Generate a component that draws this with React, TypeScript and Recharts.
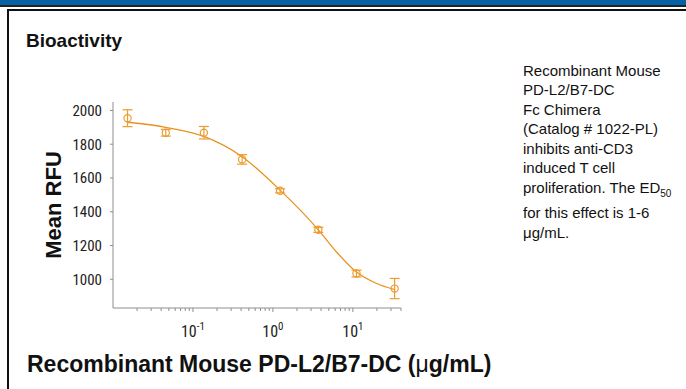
import React from "react";
import { ComposedChart, Line, Scatter, ErrorBar, XAxis, YAxis } from "recharts";

// Measured points (concentration in µg/mL, mean RFU, error)
const concentrations = [0.0152, 0.0457, 0.137, 0.412, 1.23, 3.7, 11.1, 33.3];
const meanRfu = [1954, 1868, 1868, 1710, 1524, 1293, 1034, 945];
const rfuError = [50, 20, 37, 28, 12, 15, 20, 60];

// Fitted curve
const fitX = [0.0152, 0.0457, 0.137, 0.412, 1.23, 3.7, 6.4, 11.1, 19.2, 33.3];
const fitY = [1930, 1900, 1846, 1726, 1528, 1293, 1156, 1043, 978, 939];

const yTicks = [1000, 1200, 1400, 1600, 1800, 2000];
const xMajorTicks = [0.1, 1, 10];
const xMajorExponents = ["-1", "0", "1"];
const xMinorTicks = [
  0.02, 0.03, 0.04, 0.05, 0.06, 0.07, 0.08, 0.09,
  0.2, 0.3, 0.4, 0.5, 0.6, 0.7, 0.8, 0.9,
  2, 3, 4, 5, 6, 7, 8, 9,
  20, 30, 40,
];

const descriptionLines = [
  "Recombinant Mouse",
  "PD-L2/B7-DC",
  "Fc Chimera",
  "(Catalog # 1022-PL)",
  "inhibits anti-CD3",
  "induced T cell",
];

const points = concentrations.map((x, i) => ({ x, y: meanRfu[i], err: rfuError[i] }));
const fit = fitX.map((x, i) => ({ x, fit: fitY[i] }));
const allXTicks = [...xMinorTicks, ...xMajorTicks].sort((a, b) => a - b);

const ORANGE = "#EC9B2E";
const LINE_ORANGE = "#E8931F";
const AXIS = "#8e8e8e";
const SANS = "'Liberation Sans', Arial, sans-serif";
const NARROW = "'Liberation Sans Narrow', 'Arial Narrow', 'Roboto Condensed', sans-serif";

const XTick = (props: any) => {
  const { x, y, payload } = props;
  const v = payload.value;
  const idx = xMajorTicks.findIndex((m) => Math.abs(m - v) < 1e-9);
  const major = idx >= 0;
  return (
    <g>
      <line x1={x} x2={x} y1={y} y2={y + (major ? 4 : 3)} stroke={AXIS} strokeWidth={1} />
      {major && (
        <text x={x} y={y + 29} textAnchor="middle" fontFamily={NARROW} fontSize={16} fill="#222">
          <tspan>10</tspan>
          <tspan dy={-7} fontSize={11}>{xMajorExponents[idx]}</tspan>
        </text>
      )}
    </g>
  );
};

const Marker = (props: any) => {
  const { cx, cy } = props;
  if (cx == null || cy == null) return <g />;
  return <circle cx={cx} cy={cy} r={3.6} fill="none" stroke={ORANGE} strokeWidth={1.2} />;
};

export default function App() {
  return (
    <div style={{ position: "absolute", left: 0, top: 0, width: 686, height: 389, background: "#fff", overflow: "hidden" }}>
      <div style={{ position: "absolute", left: 0, top: 0 }}>
        <ComposedChart
          width={686}
          height={389}
          margin={{ top: 102, left: 112, right: 285, bottom: 80 }}
        >
          <XAxis
            dataKey="x"
            type="number"
            scale="log"
            domain={[0.01, 40]}
            allowDataOverflow
            ticks={allXTicks}
            interval={0}
            tickLine={false}
            tickSize={0}
            tickMargin={0}
            tick={<XTick />}
            axisLine={{ stroke: AXIS, strokeWidth: 1 }}
            height={1}
          />
          <YAxis
            type="number"
            domain={[830, 2050]}
            allowDataOverflow
            ticks={yTicks}
            interval={0}
            width={1}
            tickSize={3}
            tickMargin={8}
            axisLine={{ stroke: AXIS, strokeWidth: 1 }}
            tickLine={{ stroke: AXIS, strokeWidth: 1 }}
            tick={{ fontFamily: NARROW, fontSize: 15, fill: "#222" }}
          />
          <Line
            data={fit}
            dataKey="fit"
            type="monotone"
            stroke={LINE_ORANGE}
            strokeWidth={1.3}
            dot={false}
            activeDot={false}
            isAnimationActive={false}
          />
          <Scatter data={points} dataKey="y" shape={<Marker />} isAnimationActive={false}>
            <ErrorBar dataKey="err" direction="y" width={5} stroke={ORANGE} strokeWidth={1.2} isAnimationActive={false} />
          </Scatter>
        </ComposedChart>
      </div>
      <svg
        width={686}
        height={389}
        style={{ position: "absolute", left: 0, top: 0, pointerEvents: "none" }}
      >
        <rect x={0} y={0} width={686} height={5} fill="#0561A3" />
        <rect x={0} y={5} width={686} height={2} fill="#222" />
        <rect x={7} y={9} width={679} height={2} fill="#111" />
        <rect x={7} y={9} width={2} height={380} fill="#111" />
        <text x={26} y={47} fontFamily={SANS} fontWeight="bold" fontSize={19} fill="#111">
          Bioactivity
        </text>
        <text
          x={0}
          y={0}
          transform="translate(61 205) rotate(-90)"
          textAnchor="middle"
          fontFamily={SANS}
          fontWeight="bold"
          fontSize={22}
          fill="#111"
        >
          Mean RFU
        </text>
        <text x={27} y={372} fontFamily={SANS} fontWeight="bold" fontSize={23} fill="#111">
          Recombinant Mouse PD-L2/B7-DC (<tspan fontWeight="normal">μ</tspan>g/mL)
        </text>
        <g fontFamily={SANS} fontSize={15} fill="#111">
          {descriptionLines.map((t, i) => (
            <text key={i} x={523} y={75.5 + i * 19.5}>
              {t}
            </text>
          ))}
          <text x={523} y={193}>
            proliferation. The ED<tspan dy={4} fontSize={10}>50</tspan>
          </text>
          <text x={523} y={218}>for this effect is 1-6</text>
          <text x={523} y={238}>μg/mL.</text>
        </g>
      </svg>
    </div>
  );
}
